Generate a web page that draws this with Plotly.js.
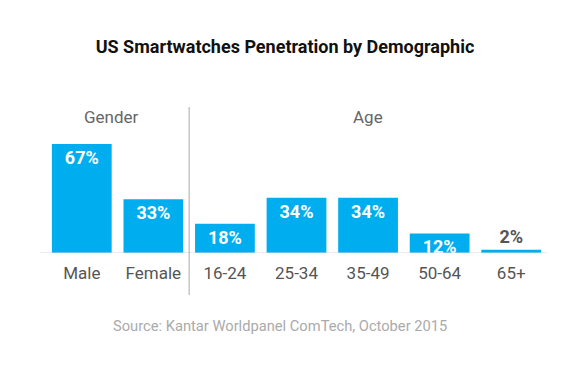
<!DOCTYPE html>
<html>
<head>
<meta charset="utf-8">
<script src="https://cdn.plot.ly/plotly-3.0.1.min.js"></script>
<style>html,body{margin:0;padding:0;background:#fff;}#chart{width:580px;height:384px;}</style>
</head>
<body>
<div id="chart"></div>
<script>
var categories = ["Male", "Female", "16-24", "25-34", "35-49", "50-64", "65+"];
var values = [67, 33, 18, 34, 34, 12, 2];
var labels = ["67%", "33%", "18%", "34%", "34%", "12%", "2%"];
var groupNames = ["Gender", "Age"];

var F = "Roboto, 'DejaVu Sans', sans-serif";

var trace = {
  type: "bar",
  x: categories,
  y: values,
  text: labels,
  textposition: values.map(function(v){ return v < 5 ? "outside" : "inside"; }),
  insidetextanchor: "end",
  constraintext: "none",
  insidetextfont: {family: F, size: 18, color: "#ffffff", weight: "bold"},
  outsidetextfont: {family: F, size: 18, color: "#555555", weight: "bold"},
  textangle: 0,
  cliponaxis: false,
  marker: {color: "#00AEEF"},
  hoverinfo: "skip"
};

var layout = {
  width: 580, height: 384,
  margin: {l: 46, r: 33, t: 100, b: 131},
  paper_bgcolor: "#ffffff",
  plot_bgcolor: "#ffffff",
  bargap: 0.165,
  showlegend: false,
  title: {text: "US Smartwatches Penetration by Demographic", font: {family: F, size: 18, color: "#111111", weight: "bold"}, x: 285/580, xanchor: "center", y: 1 - 47/384, yanchor: "middle"},
  xaxis: {
    type: "category", range: [-0.5, 6.5], showgrid: false, zeroline: false, showline: false,
    ticks: "", tickfont: {family: F, size: 17, color: "#555555"}, ticklabelstandoff: 8, fixedrange: true
  },
  yaxis: {range: [0, 94], visible: false, fixedrange: true},
  shapes: [
    {type: "line", xref: "paper", yref: "y", x0: -0.012, x1: 1, y0: 0, y1: 0, line: {color: "#d6d6d6", width: 1}},
    {type: "line", xref: "x", yref: "paper", x0: 1.5, x1: 1.5, y0: -42/153, y1: 1 - 7/153, line: {color: "#aaaaaa", width: 1}}
  ],
  annotations: [
    {text: groupNames[0], xref: "x", yref: "paper", x: 0.42, y: 1 - 17/153, yanchor: "middle", showarrow: false, font: {family: F, size: 17, color: "#666666"}},
    {text: groupNames[1], xref: "x", yref: "paper", x: 4, y: 1 - 17/153, yanchor: "middle", showarrow: false, font: {family: F, size: 17, color: "#666666"}},
    {text: "Source: Kantar Worldpanel ComTech, October 2015", xref: "paper", yref: "paper", x: (280-46)/501, y: -(326-253)/153, xanchor: "center", yanchor: "middle", showarrow: false, font: {family: F, size: 14.7, color: "#aaaaaa"}}
  ]
};

Plotly.newPlot("chart", [trace], layout, {displayModeBar: false, staticPlot: true});
</script>
</body>
</html>
